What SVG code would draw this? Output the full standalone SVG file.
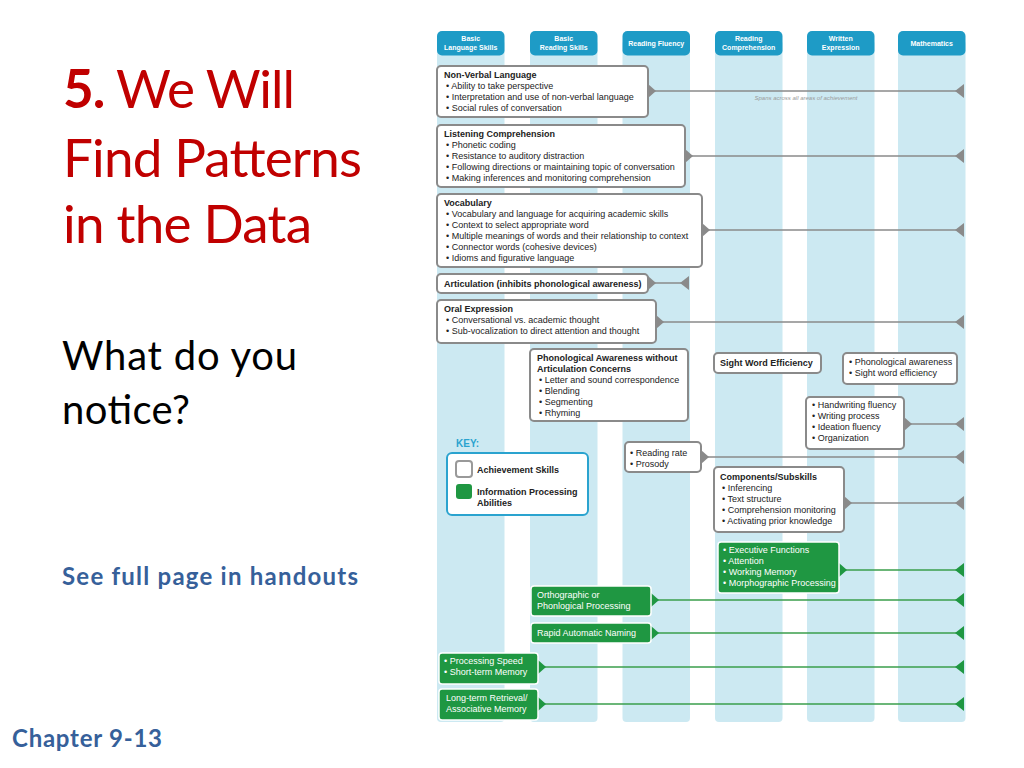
<svg xmlns="http://www.w3.org/2000/svg" width="1024" height="768" viewBox="0 0 1024 768">
<defs>
<style>
.col{fill:#cce9f2}
.tab{fill:#1e9bc6}
.tabt{font-family:"Liberation Sans",Arial,sans-serif;font-size:7px;font-weight:bold;fill:#fff;text-anchor:middle}
.box{fill:#fff;stroke:#8a8a8a;stroke-width:2}
.gbox{fill:#1f9742;stroke:#fff;stroke-width:1.5}
.t{font-family:"Liberation Sans",Arial,sans-serif;font-size:9px;fill:#222}
.tb{font-family:"Liberation Sans",Arial,sans-serif;font-size:9px;font-weight:bold;fill:#222}
.gt{font-family:"Liberation Sans",Arial,sans-serif;font-size:9px;fill:#fff}
.gl{stroke:#8a8a8a;stroke-width:1.6;fill:none;marker-start:url(#gs);marker-end:url(#ge)}
.grl{stroke:#3a9e4b;stroke-width:1.6;fill:none;marker-start:url(#grs);marker-end:url(#gre)}
.title{font-family:Lato,"Open Sans",sans-serif;fill:#c00000}
.blue{font-family:Lato,"Open Sans",sans-serif;font-weight:bold;fill:#36609a}
</style>
<marker id="gs" markerUnits="userSpaceOnUse" viewBox="0 -7 8 14" refX="0" refY="0" markerWidth="8" markerHeight="14" orient="auto"><path d="M0,-7 L8,0 L0,7 z" fill="#8a8a8a"/></marker>
<marker id="ge" markerUnits="userSpaceOnUse" viewBox="-9 -7 9 14" refX="0" refY="0" markerWidth="9" markerHeight="14" orient="auto"><path d="M0,-7 L-9,0 L0,7 z" fill="#8a8a8a"/></marker>
<marker id="grs" markerUnits="userSpaceOnUse" viewBox="0 -7 8 14" refX="0" refY="0" markerWidth="8" markerHeight="14" orient="auto"><path d="M0,-7 L8,0 L0,7 z" fill="#1f9742"/></marker>
<marker id="gre" markerUnits="userSpaceOnUse" viewBox="-9 -7 9 14" refX="0" refY="0" markerWidth="9" markerHeight="14" orient="auto"><path d="M0,-7 L-9,0 L0,7 z" fill="#1f9742"/></marker>
</defs>
<rect width="1024" height="768" fill="#fff"/>

<!-- Left slide text -->
<g id="slide-title">
<text class="title" x="63" y="108" font-size="53" textLength="232"><tspan font-weight="bold">5.</tspan> We Will</text>
<text class="title" x="63" y="177" font-size="53" textLength="299">Find Patterns</text>
<text class="title" x="63" y="243" font-size="53" textLength="249">in the Data</text>
</g>
<g id="slide-question">
<text x="62" y="370" font-family="Lato,'Open Sans',sans-serif" font-size="40" fill="#000" textLength="235">What do you</text>
<text x="62" y="424" font-family="Lato,'Open Sans',sans-serif" font-size="40" fill="#000" textLength="128">notice?</text>
</g>
<text id="handout" class="blue" x="62" y="585" font-size="24" textLength="296">See full page in handouts</text>
<text id="chapter" class="blue" x="12" y="747" font-size="24" textLength="150">Chapter 9-13</text>

<!-- Columns -->
<g id="columns">
<rect class="col" x="437" y="40" width="67.5" height="682" rx="4"/>
<rect class="col" x="530" y="40" width="67.5" height="682" rx="4"/>
<rect class="col" x="622.5" y="40" width="67.5" height="682" rx="4"/>
<rect class="col" x="715" y="40" width="67.5" height="682" rx="4"/>
<rect class="col" x="807" y="40" width="67.5" height="682" rx="4"/>
<rect class="col" x="898" y="40" width="67.5" height="682" rx="4"/>
</g>
<g id="col-headers">
<g id="h-bls"><rect class="tab" x="437" y="31" width="67.5" height="24.5" rx="5"/><text class="tabt" x="470.7" y="41">Basic</text><text class="tabt" x="470.7" y="50">Language Skills</text></g>
<g id="h-brs"><rect class="tab" x="530" y="31" width="67.5" height="24.5" rx="5"/><text class="tabt" x="563.7" y="41">Basic</text><text class="tabt" x="563.7" y="50">Reading Skills</text></g>
<g id="h-rf"><rect class="tab" x="622.5" y="31" width="67.5" height="24.5" rx="5"/><text class="tabt" x="656.2" y="45.5">Reading Fluency</text></g>
<g id="h-rc"><rect class="tab" x="715" y="31" width="67.5" height="24.5" rx="5"/><text class="tabt" x="748.7" y="41">Reading</text><text class="tabt" x="748.7" y="50">Comprehension</text></g>
<g id="h-we"><rect class="tab" x="807" y="31" width="67.5" height="24.5" rx="5"/><text class="tabt" x="840.7" y="41">Written</text><text class="tabt" x="840.7" y="50">Expression</text></g>
<g id="h-math"><rect class="tab" x="898" y="31" width="67.5" height="24.5" rx="5"/><text class="tabt" x="931.7" y="45.5">Mathematics</text></g>
</g>

<!-- Connectors -->
<g id="connectors">
<line class="gl" x1="648" y1="91" x2="964" y2="91"/>
<line class="gl" x1="685" y1="156" x2="964" y2="156"/>
<line class="gl" x1="702" y1="230" x2="964" y2="230"/>
<line class="gl" x1="648" y1="283" x2="689" y2="283"/>
<line class="gl" x1="656" y1="322" x2="964" y2="322"/>
<line class="gl" x1="904" y1="424" x2="964" y2="424"/>
<line class="gl" x1="701" y1="457" x2="964" y2="457"/>
<line class="gl" x1="844" y1="503" x2="964" y2="503"/>
<line class="grl" x1="839" y1="570" x2="964" y2="570"/>
<line class="grl" x1="651" y1="600" x2="964" y2="600"/>
<line class="grl" x1="651" y1="633" x2="964" y2="633"/>
<line class="grl" x1="538" y1="667" x2="964" y2="667"/>
<line class="grl" x1="538" y1="704" x2="964" y2="704"/>
<text x="806" y="100" font-family="'Liberation Sans',Arial,sans-serif" font-size="6" font-style="italic" fill="#9a9a9a" text-anchor="middle">Spans across all areas of achievement</text>
</g>

<!-- Achievement skill boxes -->
<g id="nonverbal">
<rect class="box" x="437" y="66" width="211" height="51" rx="4"/>
<text class="tb" x="444" y="78">Non-Verbal Language</text>
<text class="t" x="446" y="89">• Ability to take perspective</text>
<text class="t" x="446" y="100">• Interpretation and use of non-verbal language</text>
<text class="t" x="446" y="111">• Social rules of conversation</text>
</g>
<g id="listening">
<rect class="box" x="437" y="125" width="248" height="62" rx="4"/>
<text class="tb" x="444" y="137">Listening Comprehension</text>
<text class="t" x="446" y="148">• Phonetic coding</text>
<text class="t" x="446" y="159">• Resistance to auditory distraction</text>
<text class="t" x="446" y="170">• Following directions or maintaining topic of conversation</text>
<text class="t" x="446" y="181">• Making inferences and monitoring comprehension</text>
</g>
<g id="vocabulary">
<rect class="box" x="437" y="194" width="265" height="73" rx="4"/>
<text class="tb" x="444" y="206">Vocabulary</text>
<text class="t" x="446" y="217">• Vocabulary and language for acquiring academic skills</text>
<text class="t" x="446" y="228">• Context to select appropriate word</text>
<text class="t" x="446" y="239">• Multiple meanings of words and their relationship to context</text>
<text class="t" x="446" y="250">• Connector words (cohesive devices)</text>
<text class="t" x="446" y="261">• Idioms and figurative language</text>
</g>
<g id="articulation">
<rect class="box" x="437" y="274" width="211" height="19" rx="4"/>
<text class="tb" x="444" y="286.5">Articulation (inhibits phonological awareness)</text>
</g>
<g id="oral">
<rect class="box" x="437" y="300" width="219" height="43" rx="4"/>
<text class="tb" x="444" y="312">Oral Expression</text>
<text class="t" x="446" y="323">• Conversational vs. academic thought</text>
<text class="t" x="446" y="334">• Sub-vocalization to direct attention and thought</text>
</g>
<g id="phonological">
<rect class="box" x="530" y="349" width="158" height="72" rx="4"/>
<text class="tb" x="537" y="361">Phonological Awareness without</text>
<text class="tb" x="537" y="372">Articulation Concerns</text>
<text class="t" x="539" y="383">• Letter and sound correspondence</text>
<text class="t" x="539" y="394">• Blending</text>
<text class="t" x="539" y="405">• Segmenting</text>
<text class="t" x="539" y="416">• Rhyming</text>
</g>
<g id="sightword">
<rect class="box" x="714" y="353" width="107" height="20" rx="4"/>
<text class="tb" x="720" y="366">Sight Word Efficiency</text>
</g>
<g id="math-basic">
<rect class="box" x="843" y="353" width="114" height="31" rx="4"/>
<text class="t" x="849" y="365">• Phonological awareness</text>
<text class="t" x="849" y="376">• Sight word efficiency</text>
</g>
<g id="written">
<rect class="box" x="806" y="397" width="98" height="52" rx="4"/>
<text class="t" x="812" y="408">• Handwriting fluency</text>
<text class="t" x="812" y="419">• Writing process</text>
<text class="t" x="812" y="430">• Ideation fluency</text>
<text class="t" x="812" y="441">• Organization</text>
</g>
<g id="fluency">
<rect class="box" x="625" y="442" width="76" height="30" rx="4"/>
<text class="t" x="630" y="456">• Reading rate</text>
<text class="t" x="630" y="467">• Prosody</text>
</g>
<g id="components">
<rect class="box" x="714" y="467" width="130" height="65" rx="4"/>
<text class="tb" x="720" y="480">Components/Subskills</text>
<text class="t" x="722" y="491">• Inferencing</text>
<text class="t" x="722" y="502">• Text structure</text>
<text class="t" x="722" y="513">• Comprehension monitoring</text>
<text class="t" x="722" y="524">• Activating prior knowledge</text>
</g>

<!-- Key -->
<g id="key">
<text x="456" y="447" font-family="'Liberation Sans',Arial,sans-serif" font-size="10" font-weight="bold" fill="#2aa3cf">KEY:</text>
<rect x="447" y="453" width="141" height="62" rx="5" fill="#fff" stroke="#2aa3cf" stroke-width="2"/>
<rect x="456" y="461" width="16" height="16" rx="3" fill="#fff" stroke="#999" stroke-width="2"/>
<text class="tb" x="477" y="473">Achievement Skills</text>
<rect x="456" y="484" width="16" height="15" rx="3" fill="#1f9742"/>
<text class="tb" x="477" y="495">Information Processing</text>
<text class="tb" x="477" y="506">Abilities</text>
</g>

<!-- Information processing boxes -->
<g id="executive">
<rect class="gbox" x="718" y="542" width="121" height="51" rx="3"/>
<text class="gt" x="723" y="553">• Executive Functions</text>
<text class="gt" x="723" y="564">• Attention</text>
<text class="gt" x="723" y="575">• Working Memory</text>
<text class="gt" x="723" y="586">• Morphographic Processing</text>
</g>
<g id="orthographic">
<rect class="gbox" x="531" y="586" width="120" height="30" rx="3"/>
<text class="gt" x="537" y="598">Orthographic or</text>
<text class="gt" x="537" y="609">Phonlogical Processing</text>
</g>
<g id="ran">
<rect class="gbox" x="531" y="623" width="120" height="20" rx="3"/>
<text class="gt" x="537" y="636">Rapid Automatic Naming</text>
</g>
<g id="speed">
<rect class="gbox" x="439" y="653" width="99" height="31" rx="3"/>
<text class="gt" x="444" y="664">• Processing Speed</text>
<text class="gt" x="444" y="675">• Short-term Memory</text>
</g>
<g id="longterm">
<rect class="gbox" x="439" y="689" width="99" height="31" rx="3"/>
<text class="gt" x="446" y="701">Long-term Retrieval/</text>
<text class="gt" x="446" y="712">Associative Memory</text>
</g>
</svg>
